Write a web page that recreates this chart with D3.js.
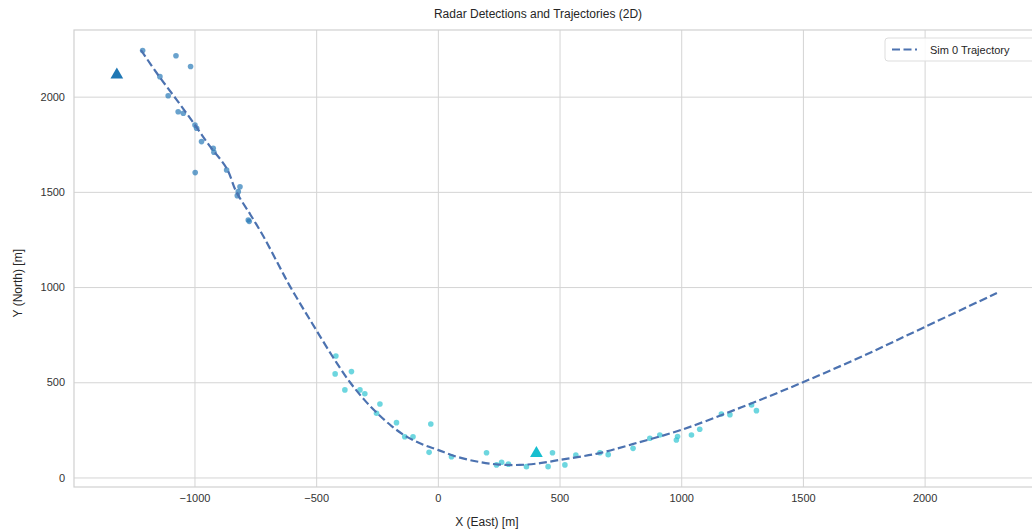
<!DOCTYPE html>
<html>
<head>
<meta charset="utf-8">
<script src="https://cdn.jsdelivr.net/npm/d3@7"></script>
<style>
  body { margin: 0; background: #fff; }
  svg { font-family: "Liberation Sans", Arial, sans-serif; }
  .grid line { stroke: #d4d4d4; stroke-width: 1; }
  .tick text { fill: #333; font-size: 11px; }
</style>
</head>
<body>
<div id="chart"></div>
<script>
// trajectory of sim 0 (x east, y north), metres
var trajX = [-1220, -1150, -1073, -1000, -940, -868, -828, -770, -717, -660, -608, -550, -500, -430, -361, -300, -250, -190, -127, -60, 0, 80, 172, 250, 337, 420, 500, 580, 665, 800, 1000, 1250, 1500, 1750, 2000, 2297];
var trajY = [2245, 2115, 1983, 1855, 1745, 1624, 1500, 1380, 1267, 1130, 1005, 880, 775, 630, 500, 405, 339, 270, 213, 172, 145, 108, 81, 68, 66, 75, 92, 108, 128, 175, 250, 370, 500, 640, 790, 969];

// detections from radar 0
var det0X = [-1213, -1076, -1016, -1142, -1108, -1067, -1046, -998, -991, -971, -923, -920, -868, -997, -813, -820, -824, -779, -775];
var det0Y = [2242, 2215, 2158, 2105, 2005, 1921, 1913, 1851, 1834, 1764, 1729, 1708, 1615, 1601, 1527, 1501, 1480, 1352, 1345];

// detections from radar 1
var det1X = [-419, -422, -355, -382, -320, -300, -238, -252, -170, -136, -102, -29, -36, 56, 200, 241, 262, 290, 364, 453, 471, 522, 567, 666, 700, 802, 871, 912, 980, 985, 1042, 1076, 1165, 1200, 1289, 1309];
var det1Y = [638, 544, 556, 460, 460, 440, 386, 337, 288, 214, 214, 281, 132, 109, 130, 66, 80, 70, 57, 57, 130, 66, 118, 130, 120, 153, 206, 223, 197, 215, 223, 253, 333, 330, 381, 351];

// radar sites
var radarX = [-1319, 405];
var radarY = [2114, 127];
var radarColors = ["#1f77b4", "#17becf"];

var xTicks = [-1000, -500, 0, 500, 1000, 1500, 2000];
var yTicks = [0, 500, 1000, 1500, 2000];

var w = 1032, h = 531;
var padL = 74, padR = 1039, padT = 30, padB = 487;

var svg = d3.select("#chart").append("svg")
    .attr("width", w)
    .attr("height", h);

var x = d3.scaleLinear().domain([-1495, 2470]).range([padL, padR]);
var y = d3.scaleLinear().domain([-50, 2350]).range([padB, padT]);

// grid
svg.append("g")
    .attr("class", "grid")
    .attr("transform", "translate(0," + padB + ")")
    .call(d3.axisBottom(x).tickValues(xTicks).tickSize(-(padB - padT)).tickFormat(""))
    .call(function (g) { g.select(".domain").remove(); });

svg.append("g")
    .attr("class", "grid")
    .attr("transform", "translate(" + padL + ",0)")
    .call(d3.axisLeft(y).tickValues(yTicks).tickSize(-(padR - padL)).tickFormat(""))
    .call(function (g) { g.select(".domain").remove(); });

// frame
svg.append("rect")
    .attr("x", padL)
    .attr("y", padT)
    .attr("width", padR - padL)
    .attr("height", padB - padT)
    .attr("fill", "none")
    .attr("stroke", "#d0d0d0")
    .attr("stroke-width", 1.2);

// axes text
var fmt = function (d) { return d < 0 ? "\u2212" + Math.abs(d) : d; };

svg.append("g")
    .attr("transform", "translate(0," + padB + ")")
    .call(d3.axisBottom(x).tickValues(xTicks).tickSize(0).tickPadding(7).tickFormat(fmt))
    .call(function (g) { g.select(".domain").remove(); });

svg.append("g")
    .attr("transform", "translate(" + padL + ",0)")
    .call(d3.axisLeft(y).tickValues(yTicks).tickSize(0).tickPadding(9).tickFormat(fmt))
    .call(function (g) { g.select(".domain").remove(); });

svg.append("text")
    .attr("x", (padL + 1000) / 2 + 1)
    .attr("y", 18)
    .attr("text-anchor", "middle")
    .attr("fill", "#262626")
    .style("font-size", "12px")
    .text("Radar Detections and Trajectories (2D)");

svg.append("text")
    .attr("x", x(0) + 49)
    .attr("y", 526)
    .attr("text-anchor", "middle")
    .attr("fill", "#262626")
    .style("font-size", "12px")
    .text("X (East) [m]");

svg.append("text")
    .attr("transform", "translate(22," + y(1020) + ") rotate(-90)")
    .attr("text-anchor", "middle")
    .attr("fill", "#262626")
    .style("font-size", "12px")
    .text("Y (North) [m]");

// detections
var plot = svg.append("g");

function drawDetections(xs, ys, color) {
    plot.selectAll(null)
        .data(d3.range(xs.length))
        .enter()
        .append("circle")
        .attr("cx", function (i) { return x(xs[i]); })
        .attr("cy", function (i) { return y(ys[i]); })
        .attr("r", 2.8)
        .attr("fill", color)
        .attr("fill-opacity", 0.7);
}
drawDetections(det0X, det0Y, "#2a7ab8");
drawDetections(det1X, det1Y, "#2fc4d2");

// trajectory
var line = d3.line()
    .x(function (i) { return x(trajX[i]); })
    .y(function (i) { return y(trajY[i]); })
    .curve(d3.curveCatmullRom);

plot.append("path")
    .datum(d3.range(trajX.length))
    .attr("d", line)
    .attr("fill", "none")
    .attr("stroke", "#4c72b0")
    .attr("stroke-width", 2.2)
    .attr("stroke-dasharray", "8,3.5");

// radars
plot.selectAll(".radar")
    .data(d3.range(radarX.length))
    .enter()
    .append("path")
    .attr("class", "radar")
    .attr("d", d3.symbol().type(d3.symbolTriangle).size(70))
    .attr("transform", function (i) { return "translate(" + x(radarX[i]) + "," + y(radarY[i]) + ")"; })
    .attr("fill", function (i) { return radarColors[i]; });

// legend
var lg = svg.append("g").attr("transform", "translate(885,38)");
lg.append("rect")
    .attr("width", 160)
    .attr("height", 23)
    .attr("rx", 3)
    .attr("fill", "#fff")
    .attr("fill-opacity", 0.85)
    .attr("stroke", "#dddddd");
lg.append("line")
    .attr("x1", 7).attr("x2", 32)
    .attr("y1", 11.5).attr("y2", 11.5)
    .attr("stroke", "#4c72b0")
    .attr("stroke-width", 2.2)
    .attr("stroke-dasharray", "8,3.5");
lg.append("text")
    .attr("x", 45)
    .attr("y", 15.5)
    .attr("fill", "#262626")
    .style("font-size", "11px")
    .text("Sim 0 Trajectory");
</script>
</body>
</html>
